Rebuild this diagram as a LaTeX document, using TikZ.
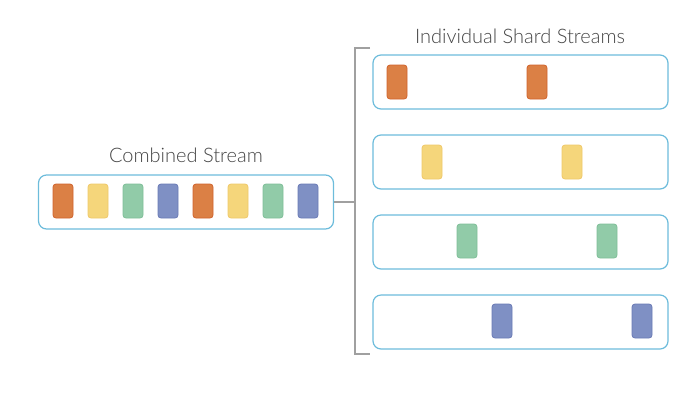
\documentclass[tikz,border=0pt]{standalone}
\usepackage{fontspec}
\setmainfont{Lato}[UprightFont=* Light]
\begin{document}
\begin{tikzpicture}[x=1pt,y=-1pt,
  stream/.style={draw=streamblue, line width=1.2pt, rounded corners=8pt, minimum width=295pt, minimum height=54pt, inner sep=0pt},
  rec/.style={rounded corners=3pt, minimum width=20pt, minimum height=34pt, inner sep=0pt, line width=0.8pt},
  orng/.style={rec, fill=orfill, draw=ordraw},
  yelw/.style={rec, fill=yefill, draw=yedraw},
  gren/.style={rec, fill=grfill, draw=grdraw},
  blu/.style={rec, fill=blfill, draw=bldraw},
  title/.style={font=\fontsize{20}{24}\selectfont, text=titlegray},
  brk/.style={draw=brkgray, line width=1.2pt}
]
\definecolor{streamblue}{HTML}{6DBCDB}
\definecolor{orfill}{HTML}{DB8045}
\definecolor{ordraw}{HTML}{D0632C}
\definecolor{yefill}{HTML}{F5D67B}
\definecolor{yedraw}{HTML}{EFC86A}
\definecolor{grfill}{HTML}{91CBA8}
\definecolor{grdraw}{HTML}{7FBE98}
\definecolor{blfill}{HTML}{7F90C4}
\definecolor{bldraw}{HTML}{6A7AB5}
\definecolor{titlegray}{HTML}{444444}
\definecolor{brkgray}{HTML}{A0A0A0}
\useasboundingbox (0,0) rectangle (700,400);

\node[title] (tc) at (186,155) {Combined Stream};
\node[title] (ti) at (520,36) {Individual Shard Streams};

\node[stream] (comb) at (186,202) {};
\node[orng] (c1) at (63,201) {};
\node[yelw] (c2) at (98,201) {};
\node[gren] (c3) at (133,201) {};
\node[blu] (c4) at (168,201) {};
\node[orng] (c5) at (203,201) {};
\node[yelw] (c6) at (238,201) {};
\node[gren] (c7) at (273,201) {};
\node[blu] (c8) at (308,201) {};

\node[stream] (s1) at (520.5,82) {};
\node[stream] (s2) at (520.5,162) {};
\node[stream] (s3) at (520.5,242) {};
\node[stream] (s4) at (520.5,322) {};

\node[orng] (a1) at (397,82) {};
\node[orng] (a2) at (537,82) {};
\node[yelw] (b1) at (432,162) {};
\node[yelw] (b2) at (572,162) {};
\node[gren] (g1) at (467,241) {};
\node[gren] (g2) at (607,241) {};
\node[blu] (d1) at (502,321) {};
\node[blu] (d2) at (642,321) {};

\coordinate (bt) at (370,48);
\coordinate (bb) at (370,354);
\coordinate (bm) at (355,202);
\draw[brk] (bt) -- (355,48) -- (355,354) -- (bb);
\draw[brk] (comb.east) -- (bm);
\end{tikzpicture}
\end{document}
